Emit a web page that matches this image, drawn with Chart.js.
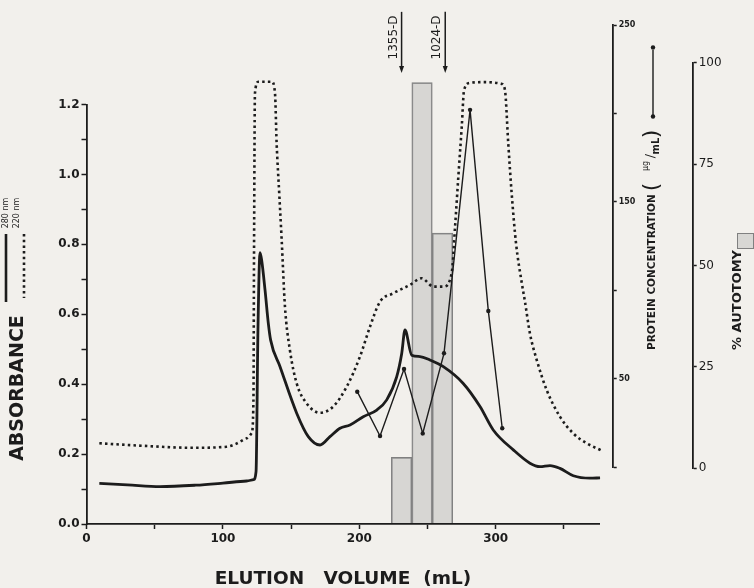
<!DOCTYPE html>
<html>
<head>
<meta charset="utf-8">
<script src="https://cdn.jsdelivr.net/npm/chart.js@4.4.1/dist/chart.umd.min.js"></script>
<style>
  html, body { margin: 0; padding: 0; background: #f2f0ec; }
  #wrap { position: relative; width: 754px; height: 588px; }
  #wrap canvas { position: absolute; left: 0; top: 0; }
</style>
</head>
<body>
<div id="wrap">
  <canvas id="barsChart" width="754" height="588"></canvas>
  <canvas id="absChart" width="754" height="588"></canvas>
  <canvas id="protChart" width="754" height="588"></canvas>
</div>
<script>
'use strict';

// --- data ---
const volume280 = [9.4, 30, 53.9, 80, 100, 117.4, 122.5, 124.3, 125.7, 127.2, 128.4, 130.9, 133.3, 135, 141.9,
    154.1, 162.6, 171.2, 178.5, 185.9, 193.2, 202.9, 212.8, 220.1, 227.4, 231.1, 233.5, 238.4, 244.5, 251.8,
    261.6, 276.2, 288.5, 298.2, 312.9, 325.1, 332.5, 339.8, 347.1, 356.9, 369.1, 376.5];
const abs280 = [0.116, 0.112, 0.107, 0.111, 0.117, 0.123, 0.127, 0.15, 0.555, 0.776, 0.755, 0.669, 0.574, 0.526, 0.450,
    0.317, 0.250, 0.226, 0.250, 0.274, 0.283, 0.307, 0.326, 0.355, 0.421, 0.488, 0.555, 0.483, 0.479, 0.469,
    0.450, 0.402, 0.336, 0.269, 0.212, 0.174, 0.164, 0.167, 0.159, 0.138, 0.131, 0.132];

const volume220 = [9.4, 40, 78.1, 102.8, 110, 117.4, 121.1, 122.4, 122.8, 123.5, 126, 130.9, 135.8, 138.2, 139.4,
    141.3, 143.1, 145.5, 149.1, 154.1, 161.4, 171.2, 180.9, 190.8, 200.5, 207.8, 215.2, 224.9, 237.2, 245.7,
    254.3, 261.6, 267.7, 270.2, 272.6, 275.1, 276.8, 281.2, 292.9, 304.4, 306.8, 309.2, 311.7, 314.9, 319.1,
    321.5, 325.1, 330.1, 337.4, 347.1, 356.9, 366.7, 377.7];
const abs220 = [0.231, 0.224, 0.218, 0.221, 0.230, 0.245, 0.260, 0.355, 0.755, 1.232, 1.265, 1.265, 1.265, 1.232, 1.089,
    0.946, 0.812, 0.622, 0.498, 0.402, 0.345, 0.318, 0.336, 0.393, 0.479, 0.564, 0.636, 0.660, 0.684, 0.703,
    0.679, 0.679, 0.717, 0.850, 0.993, 1.136, 1.241, 1.262, 1.264, 1.259, 1.241, 1.089, 0.946, 0.803, 0.690,
    0.635, 0.545, 0.469, 0.383, 0.307, 0.259, 0.231, 0.210];

const proteinVolume = [198.5, 215.2, 232.8, 246.5, 262.1, 281.2, 294.6, 304.8];
const proteinConc = [42.6, 17.5, 55.4, 19.0, 64.3, 202, 88.2, 21.9];

const autotomyVolume = [231, 246, 261];
const autotomyPct = [2.7, 95.1, 58.0];

const fractionVolume = [231, 263];
const fractionLabels = ['1355-D', '1024-D'];
const arrowFrom = 1.465;   // absorbance units, top of the marker arrows
const arrowTo = 1.29;

const legendLabels = ['280 nm', '220 nm'];

// --- page layout (pixels) ---
const X0 = 86.5, PX_PER_ML = 1.364, X_MAX = 376;
const ABS_TOP = 104.5, ABS_BOTTOM = 524;
const PROT_AXIS_X = 612.7, PROT_TOP = 25, PROT_BOTTOM = 467;
const AUT_AXIS_X = 692.7, AUT_TOP = 62.7, AUT_BOTTOM = 468.3;
const W = 754, H = 588;
const INK = '#1c1c1c';

Chart.defaults.font.family = "'DejaVu Sans', sans-serif";
Chart.defaults.color = INK;

const toPoints = (xs, ys) => xs.map((x, i) => ({ x, y: ys[i] }));

function hiddenX(max) {
    return { type: 'linear', display: false, min: 0, max, offset: false };
}

function rightAxis(width, min, max, step, labelFn, font) {
    return {
        type: 'linear', position: 'right', min, max,
        afterFit: s => { s.width = width; },
        border: { display: true, color: INK, width: 1.8 },
        grid: { drawOnChartArea: false, drawTicks: true, tickLength: 4, tickColor: INK, tickWidth: 1.5 },
        ticks: { stepSize: step, padding: 2, font, callback: labelFn }
    };
}

function rotText(ctx, text, x, y, font, align) {
    ctx.save();
    ctx.translate(x, y);
    ctx.rotate(-Math.PI / 2);
    ctx.font = font;
    ctx.fillStyle = INK;
    ctx.textAlign = align || 'center';
    ctx.textBaseline = 'middle';
    ctx.fillText(text, 0, 0);
    ctx.restore();
}

// --- autotomy bars (bottom layer) ---
const autPxPerPct = (AUT_BOTTOM - AUT_TOP) / 100;
const barBase = -(ABS_BOTTOM - AUT_BOTTOM) / autPxPerPct;

const autotomyDecor = {
    id: 'autotomyDecor',
    afterDraw(chart) {
        const ctx = chart.ctx;
        rotText(ctx, '% AUTOTOMY', 738, 300, "bold 13px 'DejaVu Sans'");
        ctx.save();
        ctx.fillStyle = '#d8d7d4';
        ctx.strokeStyle = '#808080';
        ctx.lineWidth = 1;
        ctx.fillRect(737, 233, 16, 15);
        ctx.strokeRect(737.5, 233.5, 16, 15);
        ctx.restore();
    }
};

new Chart(document.getElementById('barsChart'), {
    type: 'bar',
    data: {
        datasets: [{
            data: toPoints(autotomyVolume, autotomyPct),
            base: barBase,
            backgroundColor: 'rgba(175,175,175,0.4)',
            borderColor: '#808080',
            borderWidth: 1,
            barPercentage: 1,
            categoryPercentage: 1,
            clip: false
        }]
    },
    options: {
        responsive: false,
        animation: false,
        layout: { padding: { left: X0, top: AUT_TOP, right: 0, bottom: H - AUT_BOTTOM } },
        plugins: { legend: { display: false }, tooltip: { enabled: false } },
        scales: {
            x: hiddenX((AUT_AXIS_X - X0) / PX_PER_ML),
            y: rightAxis(W - AUT_AXIS_X, 0, 100, 25, v => v, { size: 12 })
        }
    },
    plugins: [autotomyDecor]
});

// --- absorbance traces ---
const absDecor = {
    id: 'absDecor',
    afterDraw(chart) {
        const ctx = chart.ctx;
        const xs = chart.scales.x, ys = chart.scales.y;
        rotText(ctx, 'ABSORBANCE', 18, 388, "bold 19px 'DejaVu Sans'");

        // legend for the two wavelengths
        rotText(ctx, legendLabels[0], 6, 213, "8px 'DejaVu Sans'");
        rotText(ctx, legendLabels[1], 17, 213, "8px 'DejaVu Sans'");
        ctx.save();
        ctx.strokeStyle = INK;
        ctx.lineWidth = 2.6;
        ctx.beginPath(); ctx.moveTo(6, 234); ctx.lineTo(6, 302); ctx.stroke();
        ctx.setLineDash([2.5, 3.2]);
        ctx.beginPath(); ctx.moveTo(24, 234); ctx.lineTo(24, 298); ctx.stroke();
        ctx.restore();

        // fraction markers
        fractionVolume.forEach((v, i) => {
            const x = xs.getPixelForValue(v);
            const y1 = ys.getPixelForValue(arrowFrom), y2 = ys.getPixelForValue(arrowTo);
            ctx.save();
            ctx.strokeStyle = INK; ctx.fillStyle = INK; ctx.lineWidth = 1.5;
            ctx.beginPath(); ctx.moveTo(x, y1); ctx.lineTo(x, y2 - 5); ctx.stroke();
            ctx.beginPath(); ctx.moveTo(x - 2.5, y2 - 7); ctx.lineTo(x + 2.5, y2 - 7); ctx.lineTo(x, y2); ctx.closePath(); ctx.fill();
            ctx.restore();
            rotText(ctx, fractionLabels[i], x - 8, (y1 + y2) / 2 - 5, "12px 'DejaVu Sans'");
        });
    }
};

new Chart(document.getElementById('absChart'), {
    type: 'scatter',
    data: {
        datasets: [{
            label: '280 nm',
            data: toPoints(volume280, abs280),
            showLine: true,
            borderColor: INK,
            borderWidth: 2.8,
            pointRadius: 0,
            cubicInterpolationMode: 'monotone',
            clip: false
        }, {
            label: '220 nm',
            data: toPoints(volume220, abs220),
            showLine: true,
            borderColor: INK,
            borderWidth: 2.6,
            borderDash: [2.5, 3.2],
            pointRadius: 0,
            cubicInterpolationMode: 'monotone',
            clip: false
        }]
    },
    options: {
        responsive: false,
        animation: false,
        layout: { padding: { left: 0, top: ABS_TOP, right: W - (X0 + X_MAX * PX_PER_ML), bottom: 0 } },
        plugins: { legend: { display: false }, tooltip: { enabled: false } },
        scales: {
            x: {
                type: 'linear', min: 0, max: X_MAX,
                afterFit: s => { s.height = H - ABS_BOTTOM; },
                border: { display: true, color: INK, width: 1.8 },
                grid: { drawOnChartArea: false, tickLength: 5, tickColor: INK, tickWidth: 1.5 },
                ticks: {
                    stepSize: 50, includeBounds: false, padding: 3, maxRotation: 0,
                    font: { size: 12, weight: 'bold' },
                    callback: v => (v % 100 === 0 ? v : '')
                },
                title: {
                    display: true, text: 'ELUTION   VOLUME  (mL)',
                    font: { size: 18.5, weight: 'bold', lineHeight: 1 },
                    padding: { top: 0, bottom: 0 }
                }
            },
            y: {
                type: 'linear', min: 0, max: 1.2,
                afterFit: s => { s.width = X0; },
                border: { display: true, color: INK, width: 1.8 },
                grid: { drawOnChartArea: false, tickLength: 5, tickColor: INK, tickWidth: 1.5 },
                ticks: {
                    stepSize: 0.1, padding: 2,
                    font: { size: 12, weight: 'bold' },
                    callback: v => (Math.round(v * 10) % 2 === 0 ? v.toFixed(1) : '')
                }
            }
        }
    },
    plugins: [absDecor]
});

// --- protein concentration (top layer) ---
const protDecor = {
    id: 'protDecor',
    afterDraw(chart) {
        const ctx = chart.ctx;
        rotText(ctx, 'PROTEIN CONCENTRATION', 652, 350, "bold 10.5px 'DejaVu Sans'", 'left');
        rotText(ctx, '(', 652, 187, "22px 'DejaVu Sans'");
        rotText(ctx, 'μg', 646, 166, "8px 'DejaVu Sans'");
        rotText(ctx, '/', 651, 156, "13px 'DejaVu Sans'");
        rotText(ctx, 'mL', 656, 146, "bold 10px 'DejaVu Sans'");
        rotText(ctx, ')', 652, 134, "22px 'DejaVu Sans'");
        ctx.save();
        ctx.strokeStyle = INK; ctx.fillStyle = INK; ctx.lineWidth = 1.4;
        ctx.beginPath(); ctx.moveTo(653, 116); ctx.lineTo(653, 50); ctx.stroke();
        [116.5, 47.5].forEach(y => { ctx.beginPath(); ctx.arc(653, y, 2.2, 0, Math.PI * 2); ctx.fill(); });
        ctx.restore();
    }
};

new Chart(document.getElementById('protChart'), {
    type: 'scatter',
    data: {
        datasets: [{
            label: 'Protein concentration',
            data: toPoints(proteinVolume, proteinConc),
            showLine: true,
            borderColor: INK,
            borderWidth: 1.4,
            pointRadius: 2.2,
            pointBackgroundColor: INK,
            pointBorderWidth: 0,
            clip: false
        }]
    },
    options: {
        responsive: false,
        animation: false,
        layout: { padding: { left: X0, top: PROT_TOP, right: 0, bottom: H - PROT_BOTTOM } },
        plugins: { legend: { display: false }, tooltip: { enabled: false } },
        scales: {
            x: hiddenX((PROT_AXIS_X - X0) / PX_PER_ML),
            y: rightAxis(W - PROT_AXIS_X, 0, 250, 50, v => ((v / 50) % 2 === 1 ? v : ''), { size: 8, weight: 'bold' })
        }
    },
    plugins: [protDecor]
});
</script>
</body>
</html>
